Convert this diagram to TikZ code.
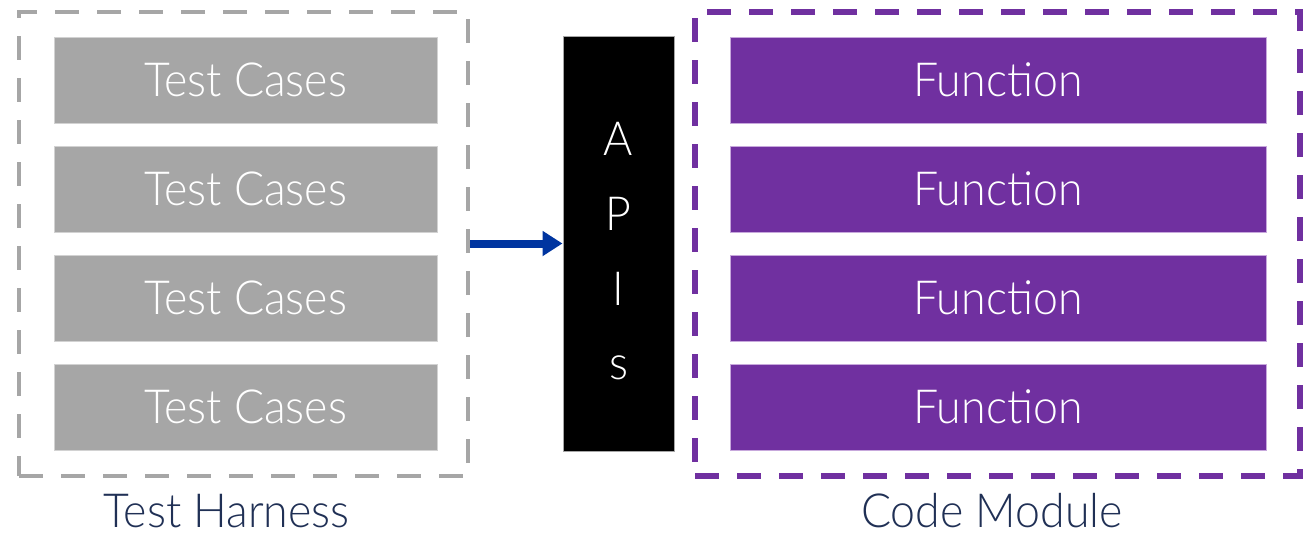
\documentclass[tikz,border=0pt]{standalone}
\usepackage{fontspec}
\setmainfont{Lato}[UprightFont=* Light, FakeStretch=0.95]
\usetikzlibrary{arrows.meta}
\definecolor{tgray}{HTML}{A6A6A6}
\definecolor{tgrayedge}{HTML}{D2D2D2}
\definecolor{tpurple}{HTML}{7030A0}
\definecolor{tpurpleedge}{HTML}{C7A8DC}
\definecolor{tnavy}{HTML}{203055}
\definecolor{tblue}{HTML}{0035A0}
\tikzset{
  harnessbox/.style={draw=tgray, line width=2.3pt, dash pattern=on 12pt off 9pt, minimum width=224.5pt, minimum height=232pt, inner sep=0pt},
  modulebox/.style={draw=tpurple, line width=2.8pt, dash pattern=on 12pt off 9pt, minimum width=302.5pt, minimum height=232pt, inner sep=0pt},
  testbox/.style={fill=tgray, draw=tgrayedge, line width=0.5pt, minimum width=191.5pt, minimum height=43pt, inner sep=0pt, text=white, font=\fontsize{23.5}{28}\selectfont},
  funcbox/.style={fill=tpurple, draw=tpurpleedge, line width=0.5pt, minimum width=268pt, minimum height=43pt, inner sep=0pt, text=white, font=\fontsize{23.5}{28}\selectfont},
  apibox/.style={fill=black, draw=gray!70, line width=0.5pt, minimum width=55.5pt, minimum height=207.5pt, inner sep=0pt},
  apiletter/.style={text=white, anchor=base, inner sep=0pt, font=\fontsize{23.5}{28}\selectfont},
  caption/.style={text=tnavy, anchor=base, inner sep=0pt, text depth=0pt, font=\fontsize{23.5}{28}\selectfont},
  flow/.style={draw=tblue, line width=4pt, -{Triangle[length=10pt,width=12pt]}}
}
\begin{document}
\begin{tikzpicture}[x=0.5pt,y=-0.5pt]
\useasboundingbox (0,0) rectangle (1309,536);
% containers
\node[harnessbox] (harness) at (243.5,244) {};
\node[modulebox] (module) at (997.5,244) {};
% test cases
\node[testbox] (t1) at (245.5,80) {Test Cases};
\node[testbox] (t2) at (245.5,189) {Test Cases};
\node[testbox] (t3) at (245.5,298) {Test Cases};
\node[testbox] (t4) at (245.5,407) {Test Cases};
% functions
\node[funcbox] (f1) at (998,80) {Function};
\node[funcbox] (f2) at (998,189) {Function};
\node[funcbox] (f3) at (998,298) {Function};
\node[funcbox] (f4) at (998,407) {Function};
% APIs
\node[apibox] (apis) at (618.5,243.5) {};
\node[apiletter] (la) at (618.5,155) {A};
\node[apiletter] (lp) at (618.5,230) {P};
\node[apiletter] (li) at (618.5,305) {I};
\node[apiletter] (ls) at (618.5,379) {s};
% arrow
\draw[flow] (harness.east |- apis.west) -- (apis.west);
% captions
\node[caption] (lh) at (226.5,527) {Test Harness};
\node[caption] (lm) at (992,527) {Code Module};
\end{tikzpicture}
\end{document}
